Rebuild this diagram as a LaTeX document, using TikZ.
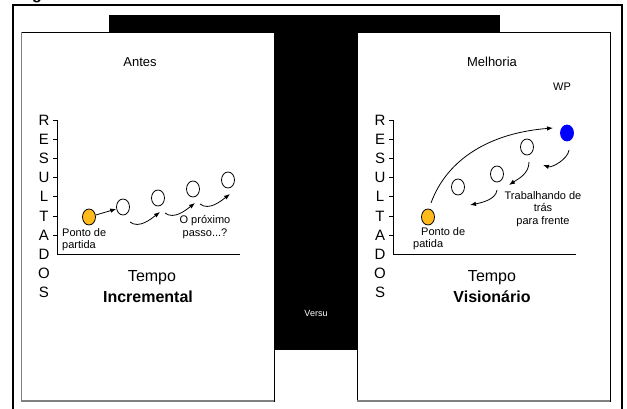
\documentclass[tikz,border=0pt]{standalone}
\usepackage{fontspec}
\setmainfont{Liberation Sans}
\usetikzlibrary{arrows.meta,shapes.geometric}
\definecolor{startdot}{RGB}{255,186,28}
\definecolor{goaldot}{RGB}{0,0,255}
\tikzset{
    dot/.style={ellipse,draw,line width=0.8pt,inner sep=0pt,minimum width=13pt,minimum height=16pt},
    stepline/.style={-{Latex[length=6pt,width=4.5pt]},line width=0.8pt},
    small/.style={font=\fontsize{11}{12.5}\selectfont,inner sep=0pt},
    title/.style={font=\fontsize{13}{15}\selectfont,inner sep=0pt,anchor=base},
    big/.style={font=\fontsize{16}{18}\selectfont,inner sep=0pt,anchor=base},
}
\begin{document}
\begin{tikzpicture}[x=1pt,y=-1pt]
    \useasboundingbox (0,0) rectangle (627,409);
    \fill[white] (0,0) rectangle (627,409);
    \node[font=\fontsize{16}{16}\selectfont\bfseries,inner sep=0pt,anchor=base] (figtag) at (37,-0.5) {g};
    \draw[line width=2.5pt] (13,412) -- (13,5) -- (622,5) -- (622,412);
    % the black T behind both panels
    \fill (109,15) rectangle (500,33);
    \fill (274,15) rectangle (357,350);
    \node[font=\fontsize{9}{10}\selectfont,text=white,inner sep=0pt,anchor=base] (versus) at (316,316) {Versu};
    \foreach \x in {21,357}{
        \draw[fill=white,line width=0.7pt] (\x,32) rectangle (\x+253,401);
        \draw[black!50,line width=1.5pt] (\x,401) -- (\x+253,401);
        \draw[line width=0.8pt] (\x+36,120) -- (\x+36,254) -- (\x+219,254);
        \foreach \k in {0,...,6}
            \draw[line width=0.8pt] (\x+32,120+19.2*\k) -- (\x+36,120+19.2*\k);
        \foreach \c [count=\k from 0] in {R,E,S,U,L,T,A,D,O,S}
            \node[font=\fontsize{15}{15}\selectfont,inner sep=0pt] (res-\x-\k) at (\x+23,120+19.2*\k) {\c};
    }
    \draw[black!50,line width=0.7pt] (21,32) -- (21,401);

    % incremental steps
    \node[title] (antes) at (140,67) {Antes};
    \node[dot,fill=startdot] (s0) at (89,217) {};
    \foreach \i/\x/\y in {1/123/207,2/158/198,3/193/189,4/228/180}
        \node[dot] (s\i) at (\x,\y) {};
    \draw[stepline] (s0) -- (s1);
    \foreach \i/\j in {1/2,2/3,3/4}
        \draw[stepline] ([shift={(7,15)}]s\i.center) .. controls +(9,7) and +(-9,7) .. ([shift={(2,14)}]s\j.center);
    \node[small,anchor=north west,align=left] (start-l) at (62,228) {Ponto de\\partida};
    \node[small,align=center] (next) at (205,227) {O próximo\\passo...?};
    \node[big] (tempo-l) at (152,281) {Tempo};
    \node[big,font=\fontsize{16}{18}\selectfont\bfseries] (kind-l) at (148,302) {Incremental};

    % working back from the goal
    \node[title] (melhoria) at (492,67) {Melhoria};
    \node[small,anchor=base] (wp-label) at (562,91) {WP};
    \node[dot,fill=startdot] (r0) at (428,217) {};
    \foreach \i/\x/\y in {1/458/187,2/497/174,3/527/147}
        \node[dot] (r\i) at (\x,\y) {};
    \node[dot,draw=goaldot,fill=goaldot] (wp) at (567,133) {};
    \draw[stepline] ([shift={(3,-14)}]r0.center) .. controls +(16,-44) and +(-63,5) .. ([shift={(-14,-5)}]wp.center);
    \draw[stepline] ([shift={(2,17)}]wp.center) .. controls +(-1,9) and +(9,3) .. ([shift={(16,18)}]r3.center);
    \draw[stepline] ([shift={(2,15)}]r3.center) .. controls +(0,12) and +(9,-6) .. ([shift={(12,11)}]r2.center);
    \draw[stepline] ([shift={(0,16)}]r2.center) .. controls +(-1,10) and +(10,-2) .. ([shift={(12,18)}]r1.center);
    \node[small,align=center] (backwards) at (543,209) {Trabalhando de\\trás\\para frente};
    \node[small,anchor=north west,align=left] (start-r) at (413,227) {\hspace*{8pt}Ponto de\\patida};
    \node[big] (tempo-r) at (492,281) {Tempo};
    \node[big,font=\fontsize{16}{18}\selectfont\bfseries] (kind-r) at (492,302) {Visionário};
\end{tikzpicture}
\end{document}
